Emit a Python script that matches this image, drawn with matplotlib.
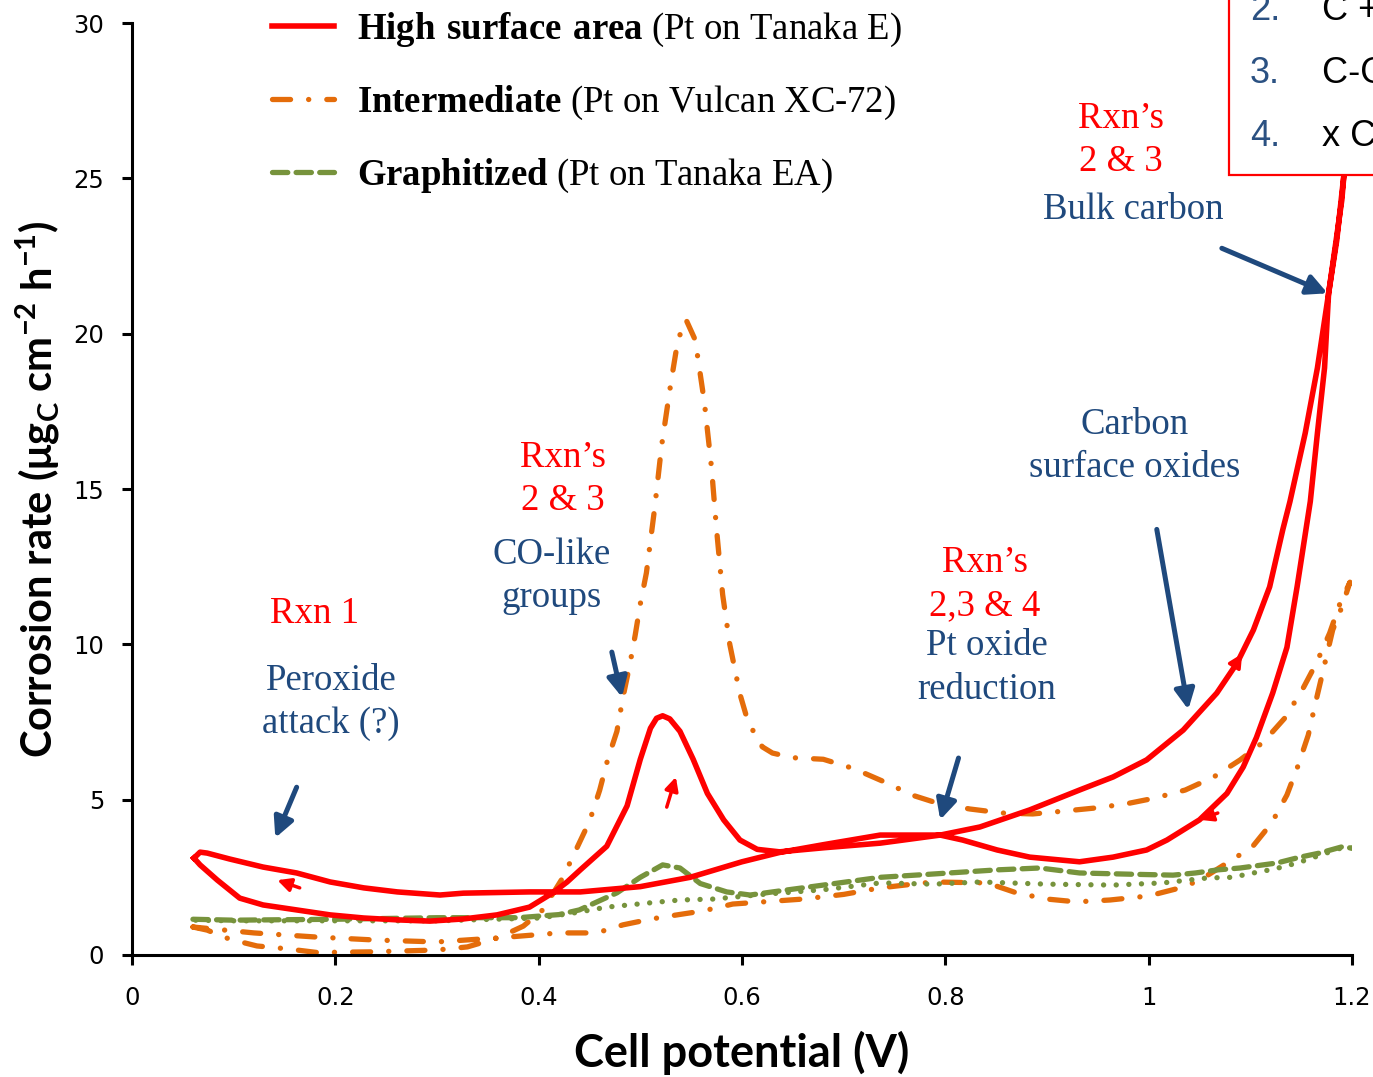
import numpy as np
import matplotlib.pyplot as plt
from matplotlib.patches import Rectangle
from matplotlib.lines import Line2D

plt.rcParams['mathtext.fontset'] = 'custom'
plt.rcParams['mathtext.rm'] = 'Liberation Serif'
plt.rcParams['mathtext.bf'] = 'Liberation Serif:bold'
plt.rcParams['lines.scale_dashes'] = False

RED = '#FF0000'
ORANGE = '#E46C0A'
GREEN = '#77933C'
NAVY = '#1F497D'
SERIF = 'Liberation Serif'

# high surface area (Pt on Tanaka E): anodic sweep, then cathodic return
hsa_fwd_v = [0.061, 0.067, 0.084, 0.106, 0.129, 0.162, 0.195, 0.228, 0.261, 0.293, 0.326, 0.359,
             0.391, 0.414, 0.428, 0.441, 0.467, 0.487, 0.500, 0.510, 0.516, 0.522, 0.529, 0.539,
             0.552, 0.566, 0.582, 0.598, 0.615, 0.637, 0.680, 0.736, 0.795, 0.834, 0.883, 0.932,
             0.965, 0.998, 1.034, 1.067, 1.087, 1.103, 1.119, 1.132, 1.139, 1.154, 1.166, 1.177,
             1.190, 1.197, 1.203]
hsa_fwd_rate = [3.12, 2.90, 2.41, 1.83, 1.61, 1.45, 1.29, 1.19, 1.13, 1.09, 1.16, 1.29,
                1.54, 2.00, 2.35, 2.74, 3.50, 4.80, 6.30, 7.30, 7.62, 7.70, 7.60, 7.20,
                6.30, 5.20, 4.35, 3.70, 3.40, 3.32, 3.45, 3.60, 3.86, 4.12, 4.67, 5.31,
                5.73, 6.28, 7.24, 8.43, 9.40, 10.46, 11.85, 13.70, 14.60, 16.80, 18.90, 21.30,
                24.30, 27.00, 31.00]
hsa_rev_v = [1.203, 1.195, 1.185, 1.177, 1.173, 1.166, 1.159, 1.146, 1.136, 1.122, 1.106, 1.093,
             1.077, 1.050, 1.018, 0.998, 0.965, 0.932, 0.883, 0.851, 0.817, 0.795, 0.736, 0.680,
             0.637, 0.600, 0.549, 0.500, 0.441, 0.391, 0.326, 0.303, 0.261, 0.228, 0.195, 0.162,
             0.129, 0.096, 0.074, 0.067, 0.061]
hsa_rev_rate = [31.00, 26.00, 23.00, 21.30, 18.90, 16.80, 14.60, 11.85, 9.90, 8.43, 7.00, 6.05,
                5.20, 4.35, 3.70, 3.38, 3.15, 3.00, 3.15, 3.38, 3.70, 3.86, 3.86, 3.55,
                3.30, 3.00, 2.50, 2.20, 2.03, 2.03, 1.99, 1.93, 2.03, 2.16, 2.35, 2.64,
                2.83, 3.09, 3.28, 3.31, 3.12]

# intermediate (Pt on Vulcan XC-72)
vul_fwd_v = [0.060, 0.074, 0.096, 0.123, 0.152, 0.182, 0.234, 0.267, 0.300, 0.330, 0.360, 0.385,
             0.404, 0.424, 0.437, 0.450, 0.460, 0.468, 0.477, 0.483, 0.490, 0.495, 0.500, 0.506,
             0.514, 0.521, 0.530, 0.537, 0.545, 0.554, 0.563, 0.570, 0.575, 0.581, 0.588, 0.598,
             0.606, 0.620, 0.630, 0.650, 0.680, 0.710, 0.743, 0.767, 0.792, 0.824, 0.856, 0.886,
             0.916, 0.947, 0.977, 1.006, 1.036, 1.064, 1.090, 1.113, 1.134, 1.151, 1.165, 1.178,
             1.188, 1.198]
vul_fwd_rate = [0.90, 0.80, 0.51, 0.29, 0.20, 0.08, 0.10, 0.13, 0.16, 0.26, 0.55, 0.93,
                1.45, 2.50, 3.40, 4.30, 5.30, 6.30, 7.20, 8.30, 9.40, 10.30, 11.30, 12.30,
                14.35, 16.40, 18.40, 19.80, 20.45, 19.80, 17.80, 15.70, 13.70, 11.60, 10.00, 8.40,
                7.50, 6.70, 6.50, 6.35, 6.30, 6.00, 5.53, 5.15, 4.89, 4.70, 4.57, 4.54,
                4.63, 4.73, 4.86, 5.05, 5.31, 5.73, 6.28, 6.86, 7.63, 8.53, 9.40, 10.36,
                11.30, 12.00]
vul_rev_v = [1.198, 1.190, 1.181, 1.171, 1.164, 1.157, 1.147, 1.136, 1.121, 1.102, 1.077, 1.050,
             1.031, 1.000, 0.962, 0.929, 0.900, 0.870, 0.841, 0.788, 0.768, 0.736, 0.700, 0.660,
             0.621, 0.591, 0.562, 0.536, 0.511, 0.483, 0.457, 0.420, 0.360, 0.300, 0.240, 0.180,
             0.120, 0.060]
vul_rev_rate = [12.00, 11.20, 10.46, 9.07, 8.10, 7.08, 6.10, 5.15, 4.25, 3.48, 2.96, 2.40,
                2.16, 1.90, 1.77, 1.71, 1.80, 2.00, 2.32, 2.35, 2.28, 2.16, 1.95, 1.80,
                1.71, 1.64, 1.42, 1.29, 1.16, 0.97, 0.71, 0.71, 0.55, 0.42, 0.48, 0.58,
                0.71, 0.90]

# graphitized (Pt on Tanaka EA)
gra_fwd_v = [0.060, 0.100, 0.200, 0.300, 0.380, 0.420, 0.440, 0.477, 0.500, 0.522, 0.539, 0.559,
             0.585, 0.608, 0.630, 0.680, 0.736, 0.785, 0.851, 0.893, 0.932, 0.982, 1.024, 1.046,
             1.068, 1.090, 1.126, 1.149, 1.168, 1.190, 1.200]
gra_fwd_rate = [1.15, 1.12, 1.15, 1.20, 1.20, 1.30, 1.45, 2.00, 2.50, 2.90, 2.80, 2.30,
                2.03, 1.93, 2.03, 2.25, 2.50, 2.60, 2.74, 2.80, 2.64, 2.60, 2.57, 2.64,
                2.74, 2.80, 2.96, 3.15, 3.28, 3.48, 3.44]
gra_rev_v = [1.200, 1.190, 1.146, 1.124, 1.103, 1.082, 1.058, 1.014, 0.965, 0.900, 0.834, 0.788,
             0.736, 0.680, 0.624, 0.572, 0.539, 0.507, 0.467, 0.434, 0.401, 0.300, 0.200, 0.100,
             0.060]
gra_rev_rate = [3.44, 3.45, 2.96, 2.77, 2.64, 2.50, 2.48, 2.32, 2.25, 2.28, 2.35, 2.28,
                2.32, 2.10, 1.96, 1.80, 1.77, 1.67, 1.54, 1.35, 1.19, 1.10, 1.10, 1.10,
                1.12]

x_ticks = [0, 0.2, 0.4, 0.6, 0.8, 1.0, 1.2]
x_tick_labels = ['0', '0.2', '0.4', '0.6', '0.8', '1', '1.2']
y_ticks = [0, 5, 10, 15, 20, 25, 30]

fig = plt.figure(figsize=(13.73, 10.77), dpi=100)
ax = fig.add_axes([0.0961, 0.1133, 0.8886, 0.8653])

# dash lengths in points (not scaled by line width)
dashdot = (0, (13, 13, 0.1, 13))
longdash = (0, (11, 6))
dotted = (0, (0.1, 9))

ax.plot(vul_fwd_v + vul_rev_v, vul_fwd_rate + vul_rev_rate, color=ORANGE, lw=3.8,
        linestyle=dashdot, dash_capstyle='round', zorder=2)
ax.plot(gra_fwd_v, gra_fwd_rate, color=GREEN, lw=3.8, linestyle=longdash,
        dash_capstyle='round', zorder=2.5)
ax.plot(gra_rev_v, gra_rev_rate, color=GREEN, lw=3.8, linestyle=dotted,
        dash_capstyle='round', zorder=2.5)
ax.plot(hsa_fwd_v + hsa_rev_v, hsa_fwd_rate + hsa_rev_rate, color=RED, lw=4,
        solid_joinstyle='round', zorder=3)

ax.set_xlim(0, 1.2)
ax.set_ylim(0, 30)
ax.set_xticks(x_ticks)
ax.set_xticklabels(x_tick_labels)
ax.set_yticks(y_ticks)
for side in ('top', 'right'):
    ax.spines[side].set_visible(False)
for side in ('left', 'bottom'):
    ax.spines[side].set_linewidth(2.2)
ax.tick_params(axis='both', direction='out', length=7, width=2.2, labelsize=17.5)
ax.tick_params(axis='y', pad=13)
ax.tick_params(axis='x', pad=15)

ax.set_xlabel('Cell potential (V)', family='Lato', fontweight='bold', fontsize=32.5, labelpad=15)
ax.set_ylabel(r'Corrosion rate (μg$_\mathregular{C}$ cm$^\mathregular{-2}$ h$^\mathregular{-1}$)',
              family='Lato', fontweight='bold', fontsize=30, labelpad=8)

# legend with a bold sample name
handles = [
    Line2D([], [], color=RED, lw=4),
    Line2D([], [], color=ORANGE, lw=3.8, linestyle=dashdot, dash_capstyle='round'),
    Line2D([], [], color=GREEN, lw=3.8, linestyle=longdash, dash_capstyle='round'),
]
labels = [r'$\mathbf{High\ surface\ area}$ (Pt on Tanaka E)',
          r'$\mathbf{Intermediate}$ (Pt on Vulcan XC-72)',
          r'$\mathbf{Graphitized}$ (Pt on Tanaka EA)']
ax.legend(handles, labels, loc='upper left', bbox_to_anchor=(0.198, 0.99),
          bbox_transform=fig.transFigure, frameon=False, prop={'family': SERIF, 'size': 26.5},
          handlelength=1.7, handletextpad=0.6, labelspacing=0.94, borderpad=0, borderaxespad=0)

# annotations
tkw = dict(family=SERIF, fontsize=26.5, ha='center', va='center', linespacing=1.33)
ax.text(0.180, 11.0, 'Rxn 1', color=RED, **tkw)
ax.text(0.196, 8.13, 'Peroxide\nattack (?)', color=NAVY, **tkw)
ax.text(0.424, 15.31, 'Rxn\u2019s\n2 & 3', color=RED, **tkw)
ax.text(0.413, 12.18, 'CO-like\ngroups', color=NAVY, **tkw)
ax.text(0.839, 11.93, 'Rxn\u2019s\n2,3 & 4', color=RED, **tkw)
ax.text(0.841, 9.25, 'Pt oxide\nreduction', color=NAVY, **tkw)
ax.text(0.973, 26.23, 'Rxn\u2019s\n2 & 3', color=RED, **tkw)
ax.text(0.985, 23.98, 'Bulk carbon', color=NAVY, **tkw)
ax.text(0.986, 16.37, 'Carbon\nsurface oxides', color=NAVY, **tkw)

navy_arrows = [((0.162, 5.40), (0.141, 3.77)),
               ((0.472, 9.75), (0.482, 8.30)),
               ((0.813, 6.34), (0.795, 4.35)),
               ((1.008, 13.70), (1.039, 7.90)),
               ((1.072, 22.75), (1.176, 21.30))]
for tail, head in navy_arrows:
    ax.annotate('', xy=head, xytext=tail, zorder=4,
                arrowprops=dict(arrowstyle='-|>', color=NAVY, lw=3.6, mutation_scale=30,
                                shrinkA=0, shrinkB=0))

red_arrows = [((0.165, 2.16), (0.143, 2.41)),
              ((0.526, 4.76), (0.535, 5.73)),
              ((1.075, 8.80), (1.092, 9.70)),
              ((1.068, 4.57), (1.050, 4.35))]
for tail, head in red_arrows:
    ax.annotate('', xy=head, xytext=tail, zorder=4,
                arrowprops=dict(arrowstyle='-|>', color=RED, lw=2.5, mutation_scale=20,
                                shrinkA=0, shrinkB=0))

# reaction list box at the top right
fig.add_artist(Rectangle((0.8951, 0.8375), 0.3, 0.3, transform=fig.transFigure,
                         facecolor='white', edgecolor=RED, lw=1.6, zorder=5))
for num, rxn, yy in [('2.', 'C + H\u2082O', 0.9907), ('3.', 'C-O + H\u2082O', 0.9322),
                     ('4.', 'x C', 0.8728)]:
    fig.text(0.9104, yy, num, color='#2B5182', family='Liberation Sans', fontsize=26,
             va='center', zorder=6)
    fig.text(0.9628, yy, rxn, color='black', family='Liberation Sans', fontsize=26,
             va='center', zorder=6)

fig.savefig('out.png', dpi=100)
